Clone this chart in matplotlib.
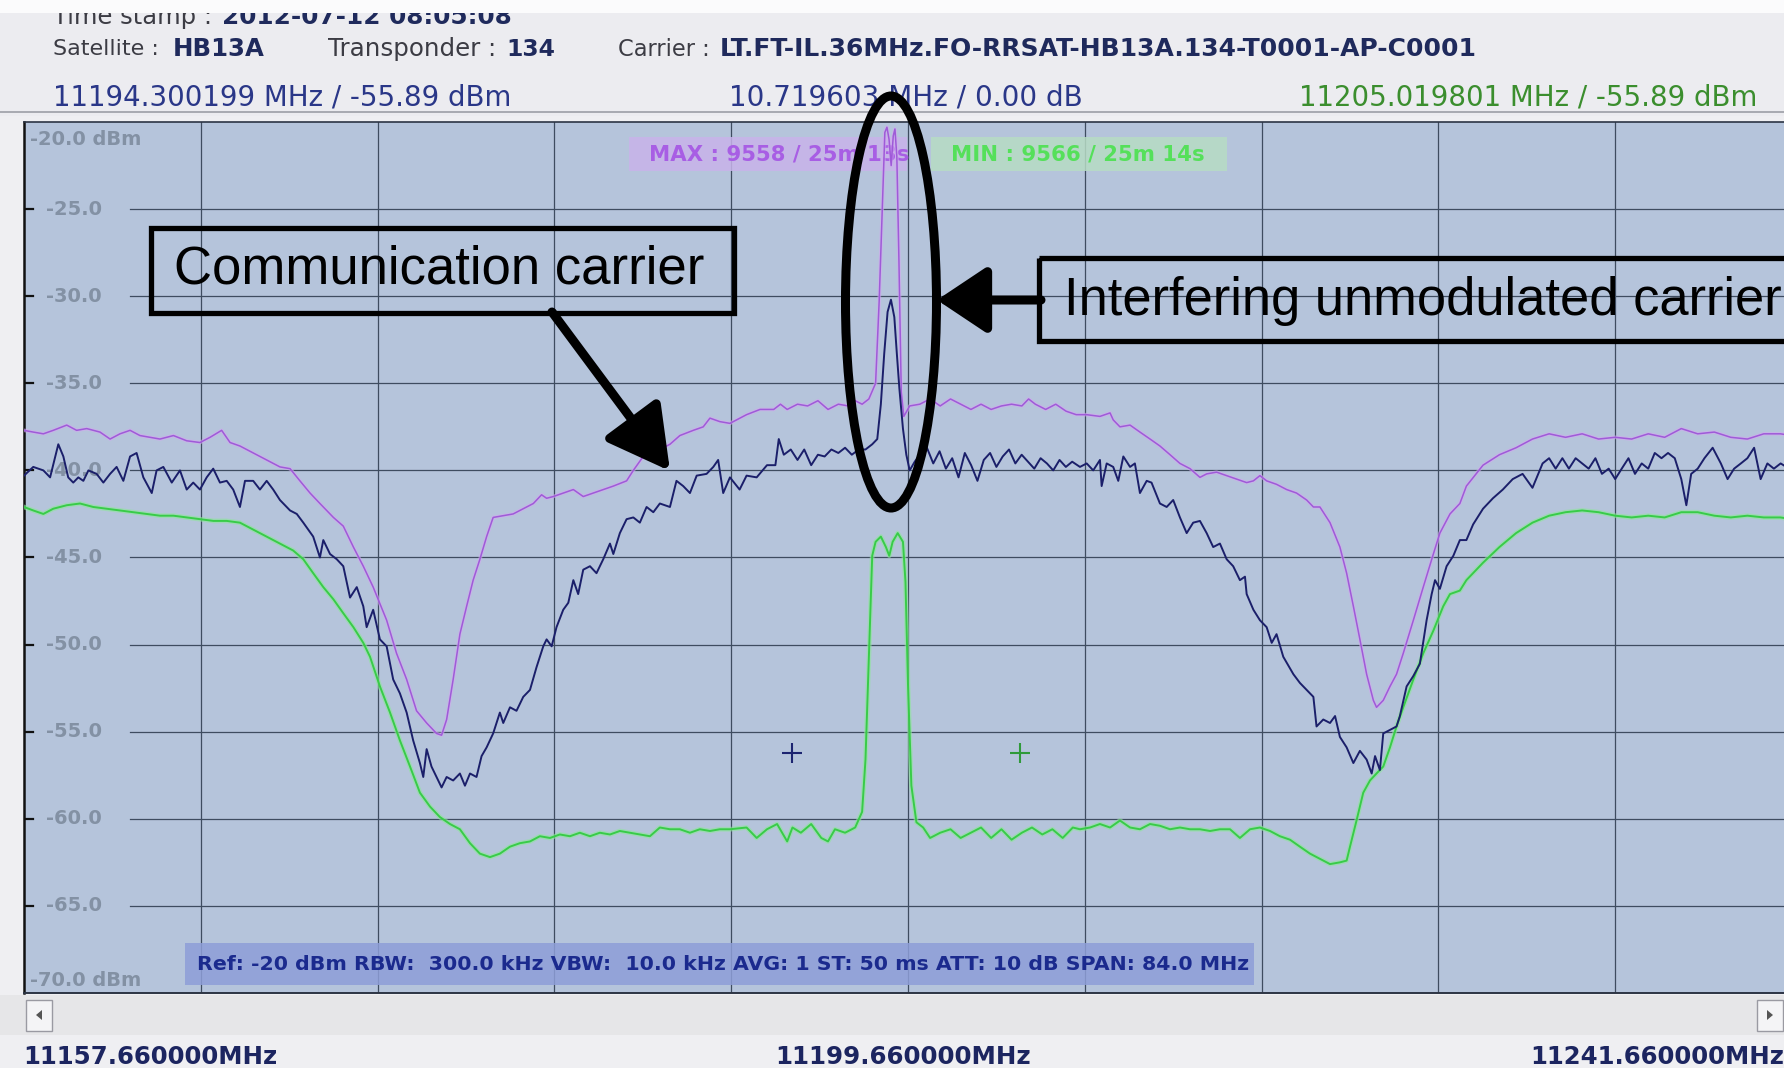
"""Spectrum analyzer screenshot: max-hold / live / min-hold traces with an interfering carrier."""

import matplotlib

matplotlib.use("Agg")
import matplotlib.pyplot as plt
from matplotlib.patches import Ellipse, Rectangle, Polygon
from matplotlib.transforms import blended_transform_factory
import numpy as np

F_START = 11157.66
F_SPAN = 84.0
F_DIV = 8.4
TOP_LEVEL = -20.0
BOTTOM_LEVEL = -70.0

# frequency offsets (MHz from F_START) and levels (dBm)
max_offset = [0.0, 0.44, 0.92, 1.39, 2.03, 2.50, 2.98, 3.61, 4.09, 4.56, 5.04, 5.51, 5.99, 6.46,
              7.10, 7.73, 8.36, 8.84, 9.39, 9.79, 10.26, 10.89, 11.53, 12.16, 12.64, 13.11,
              13.59, 14.06, 14.70, 15.17, 15.65, 16.12, 16.59, 17.23, 17.70, 18.18, 18.65,
              19.13, 19.60, 19.84, 20.08, 20.39, 20.71, 21.03, 21.34, 21.66, 21.98, 22.29,
              22.77, 23.24, 23.56, 23.88, 24.20, 24.59, 24.83, 25.15, 25.62, 26.10, 26.57,
              27.05, 27.52, 28.00, 28.63, 28.95, 29.42, 30.21, 30.69, 31.16, 31.80, 32.27,
              32.59, 33.06, 33.54, 34.33, 34.97, 35.62, 35.94, 36.26, 36.75, 37.23, 37.72,
              38.20, 38.69, 39.17, 39.49, 39.82, 40.14, 40.46, 40.63, 40.79, 40.90, 41.00,
              41.10, 41.20, 41.30, 41.38, 41.47, 41.57, 41.68, 41.80, 42.08, 42.56, 43.05,
              43.53, 44.02, 44.50, 44.99, 45.47, 45.95, 46.44, 46.92, 47.41, 47.73, 48.05,
              48.54, 49.02, 49.51, 49.99, 50.48, 51.12, 51.60, 51.75, 52.07, 52.55, 53.02,
              53.50, 53.97, 54.45, 54.92, 55.40, 55.87, 56.19, 56.66, 57.14, 57.61, 58.09,
              58.41, 58.72, 59.04, 59.51, 59.99, 60.46, 60.94, 61.26, 61.57, 62.05, 62.52,
              62.84, 63.16, 63.47, 63.79, 64.11, 64.26, 64.58, 64.90, 65.21, 65.53, 66.01,
              66.48, 66.96, 67.27, 67.75, 68.22, 68.53, 69.32, 70.10, 70.89, 71.67, 72.46,
              73.24, 74.03, 74.81, 75.60, 76.38, 77.17, 77.95, 78.74, 79.52, 80.31, 81.09,
              81.88, 82.66, 83.45, 84.00]
max_level = [-37.7, -37.8, -37.9, -37.7, -37.4, -37.7, -37.6, -37.8, -38.2, -37.9, -37.7, -38.0,
             -38.1, -38.2, -38.0, -38.3, -38.4, -38.1, -37.7, -38.4, -38.6, -39.0, -39.4, -39.8,
             -39.9, -40.6, -41.3, -41.9, -42.7, -43.2, -44.4, -45.5, -46.7, -48.6, -50.5, -52.0,
             -53.8, -54.5, -55.1, -55.2, -54.3, -52.0, -49.4, -47.8, -46.3, -45.1, -43.8, -42.7,
             -42.6, -42.5, -42.3, -42.1, -41.9, -41.4, -41.6, -41.5, -41.3, -41.1, -41.5, -41.3,
             -41.1, -40.9, -40.6, -40.0, -39.2, -38.8, -38.5, -38.0, -37.7, -37.5, -37.0, -37.2,
             -37.3, -36.8, -36.5, -36.5, -36.2, -36.5, -36.2, -36.3, -36.0, -36.5, -36.2, -36.3,
             -36.0, -36.2, -35.9, -35.0, -30.3, -24.5, -20.6, -20.3, -21.0, -22.5, -20.8, -20.4,
             -22.0, -28.0, -35.5, -36.9, -36.3, -36.2, -35.9, -36.3, -35.9, -36.2, -36.5, -36.2,
             -36.5, -36.3, -36.2, -36.3, -35.9, -36.2, -36.5, -36.2, -36.6, -36.8, -36.8, -36.9,
             -36.7, -37.1, -37.5, -37.4, -37.8, -38.2, -38.6, -39.1, -39.6, -39.9, -40.4, -40.2,
             -40.1, -40.3, -40.5, -40.7, -40.6, -40.3, -40.6, -40.8, -41.1, -41.3, -41.7, -42.1,
             -42.1, -43.0, -44.4, -45.9, -47.8, -49.7, -51.7, -53.2, -53.6, -53.2, -52.4, -51.7,
             -50.5, -48.6, -46.7, -44.8, -43.6, -42.5, -41.9, -40.9, -39.7, -39.1, -38.7, -38.2,
             -37.9, -38.1, -37.9, -38.2, -38.1, -38.2, -37.9, -38.1, -37.6, -37.9, -37.8, -38.1,
             -38.2, -37.9, -37.9, -38.0]

live_offset = [0.0, 0.44, 0.92, 1.24, 1.63, 1.87, 2.10, 2.34, 2.58, 2.82, 3.06, 3.45, 3.77, 4.09,
               4.40, 4.72, 5.04, 5.35, 5.67, 6.07, 6.30, 6.62, 7.02, 7.41, 7.73, 8.04, 8.36, 8.68,
               8.99, 9.31, 9.63, 9.94, 10.26, 10.50, 10.89, 11.21, 11.53, 11.84, 12.16, 12.64,
               12.96, 13.27, 13.74, 14.06, 14.22, 14.54, 14.86, 15.17, 15.49, 15.81, 16.12,
               16.28, 16.59, 16.91, 17.23, 17.54, 17.86, 18.18, 18.49, 18.81, 18.97, 19.13,
               19.36, 19.60, 19.84, 20.08, 20.39, 20.71, 20.95, 21.19, 21.50, 21.74, 21.98,
               22.29, 22.61, 22.77, 23.09, 23.40, 23.72, 24.04, 24.35, 24.67, 24.83, 25.07,
               25.30, 25.62, 25.86, 26.10, 26.33, 26.57, 26.89, 27.20, 27.52, 27.84, 28.00,
               28.31, 28.63, 28.95, 29.26, 29.58, 29.90, 30.21, 30.69, 31.00, 31.32, 31.64,
               31.96, 32.43, 32.75, 32.98, 33.22, 33.54, 34.00, 34.33, 34.81, 35.30, 35.70,
               35.86, 36.10, 36.43, 36.75, 37.07, 37.40, 37.72, 38.04, 38.36, 38.69, 39.01,
               39.33, 39.66, 39.98, 40.30, 40.54, 40.71, 40.87, 41.03, 41.19, 41.35, 41.47,
               41.59, 41.76, 41.92, 42.08, 42.32, 42.56, 42.90, 43.20, 43.50, 43.80, 44.10,
               44.40, 44.70, 45.00, 45.30, 45.60, 45.90, 46.20, 46.50, 46.80, 47.10, 47.40,
               47.70, 48.00, 48.30, 48.60, 48.90, 49.20, 49.50, 49.80, 50.17, 50.49, 50.80,
               51.12, 51.20, 51.44, 51.75, 51.99, 52.23, 52.55, 52.78, 53.02, 53.34, 53.57,
               53.97, 54.29, 54.60, 54.92, 55.24, 55.55, 55.87, 56.19, 56.50, 56.82, 57.14,
               57.45, 57.77, 58.01, 58.09, 58.41, 58.72, 59.04, 59.28, 59.51, 59.83, 60.31,
               60.62, 61.10, 61.26, 61.41, 61.73, 62.05, 62.29, 62.52, 62.84, 63.16, 63.47,
               63.79, 64.03, 64.19, 64.42, 64.58, 64.90, 65.21, 65.37, 65.69, 66.01, 66.32,
               66.64, 66.88, 67.04, 67.27, 67.59, 67.91, 68.22, 68.53, 68.85, 69.32, 69.79,
               70.26, 70.73, 71.20, 71.67, 72.15, 72.46, 72.77, 73.09, 73.40, 73.72, 74.03,
               74.34, 74.66, 74.97, 75.29, 75.60, 75.91, 76.23, 76.54, 76.86, 77.17, 77.48,
               77.80, 78.11, 78.43, 78.74, 78.98, 79.21, 79.52, 79.84, 80.23, 80.62, 80.94,
               81.25, 81.57, 81.88, 82.20, 82.51, 82.83, 83.14, 83.46, 84.00]
live_level = [-40.3, -39.8, -40.0, -40.4, -38.5, -39.2, -40.4, -40.7, -40.4, -40.6, -40.0, -40.2,
              -40.7, -40.2, -39.8, -40.6, -39.2, -39.0, -40.4, -41.3, -40.0, -39.8, -40.7, -40.0,
              -41.1, -40.7, -41.1, -40.4, -39.9, -40.7, -40.6, -41.1, -42.1, -40.6, -40.6, -41.1,
              -40.6, -41.1, -41.7, -42.3, -42.5, -43.0, -43.8, -45.0, -44.0, -44.8, -45.1, -45.5,
              -47.3, -46.7, -47.8, -49.0, -48.0, -49.7, -50.1, -52.0, -52.8, -53.9, -55.5, -56.8,
              -57.6, -56.0, -57.0, -57.6, -58.2, -57.6, -57.8, -57.4, -58.1, -57.4, -57.6, -56.4,
              -55.9, -55.1, -53.9, -54.5, -53.6, -53.8, -53.0, -52.6, -51.3, -50.1, -49.7, -50.1,
              -49.0, -48.0, -47.6, -46.3, -47.1, -45.7, -45.5, -45.9, -45.1, -44.2, -44.8, -43.6,
              -42.8, -42.7, -43.0, -42.1, -42.4, -41.9, -42.1, -40.6, -40.9, -41.3, -40.3, -40.2,
              -39.8, -39.4, -41.3, -40.4, -41.1, -40.3, -40.4, -39.7, -39.7, -38.2, -39.1, -38.8,
              -39.4, -38.8, -39.7, -39.1, -39.2, -38.8, -39.0, -38.7, -39.1, -38.8, -38.8, -38.5,
              -38.2, -36.2, -33.3, -30.9, -30.2, -31.2, -33.3, -35.3, -37.6, -39.1, -40.0, -39.5,
              -39.1, -38.7, -39.6, -38.9, -39.9, -39.3, -40.4, -39.0, -39.7, -40.6, -39.4, -39.0,
              -39.8, -39.2, -38.8, -39.6, -39.1, -39.5, -39.9, -39.3, -39.6, -40.0, -39.4, -39.8,
              -39.5, -39.8, -39.6, -40.0, -39.4, -40.9, -39.6, -39.8, -40.6, -39.2, -39.8, -39.6,
              -41.3, -40.6, -40.7, -41.9, -42.1, -41.7, -42.7, -43.6, -43.0, -42.9, -43.6, -44.4,
              -44.2, -45.1, -45.5, -46.3, -46.1, -47.1, -48.0, -48.6, -49.0, -49.9, -49.4, -50.7,
              -51.7, -52.2, -52.8, -53.0, -54.7, -54.3, -54.5, -54.1, -55.3, -55.9, -56.8, -56.1,
              -56.6, -57.4, -56.4, -57.2, -55.1, -54.9, -54.7, -54.1, -52.4, -51.8, -51.1, -48.6,
              -47.1, -46.3, -46.8, -45.5, -44.9, -44.0, -44.0, -43.1, -42.2, -41.6, -41.1, -40.5,
              -40.2, -41.0, -39.6, -39.3, -39.9, -39.3, -39.9, -39.3, -39.6, -39.9, -39.3, -40.2,
              -39.9, -40.5, -39.9, -39.3, -40.2, -39.6, -39.9, -39.0, -39.3, -39.0, -39.3, -40.5,
              -42.0, -40.2, -39.9, -39.3, -38.7, -39.6, -40.5, -39.9, -39.6, -39.3, -38.7, -40.5,
              -39.6, -39.9, -39.6, -40.0]

min_offset = [0.0, 0.44, 0.92, 1.39, 2.03, 2.66, 3.29, 3.93, 4.56, 5.19, 5.83, 6.46, 7.10, 7.73,
              8.36, 9.00, 9.63, 10.26, 10.89, 11.53, 12.16, 12.79, 13.27, 13.74, 14.22, 14.70,
              15.17, 15.65, 16.12, 16.44, 16.91, 17.39, 17.86, 18.34, 18.81, 19.29, 19.76,
              20.24, 20.71, 21.19, 21.66, 22.14, 22.61, 23.09, 23.56, 24.04, 24.51, 24.99,
              25.46, 25.94, 26.41, 26.89, 27.36, 27.84, 28.31, 28.79, 29.26, 29.74, 30.21,
              30.69, 31.16, 31.64, 32.11, 32.59, 33.06, 33.54, 34.33, 34.81, 35.30, 35.78,
              36.26, 36.51, 36.91, 37.40, 37.88, 38.20, 38.53, 39.01, 39.49, 39.82, 39.98,
              40.14, 40.30, 40.46, 40.71, 40.95, 41.11, 41.27, 41.51, 41.76, 41.88, 42.00,
              42.16, 42.40, 42.72, 43.05, 43.53, 44.02, 44.50, 44.99, 45.47, 45.95, 46.44,
              46.92, 47.41, 47.89, 48.38, 48.86, 49.35, 49.83, 50.17, 50.65, 51.12, 51.60,
              52.07, 52.55, 53.02, 53.50, 53.97, 54.45, 54.92, 55.40, 55.87, 56.35, 56.82,
              57.30, 57.77, 58.25, 58.72, 59.20, 59.67, 60.15, 60.62, 61.10, 61.57, 62.05,
              62.52, 62.84, 63.00, 63.31, 63.63, 63.95, 64.26, 64.58, 64.90, 65.21, 65.53,
              66.01, 66.48, 66.96, 67.43, 67.75, 68.22, 68.53, 69.32, 70.10, 70.89, 71.67,
              72.46, 73.24, 74.03, 74.81, 75.60, 76.38, 77.17, 77.95, 78.74, 79.52, 80.31,
              81.09, 81.88, 82.66, 83.45, 84.00]
min_level = [-42.1, -42.3, -42.5, -42.2, -42.0, -41.9, -42.1, -42.2, -42.3, -42.4, -42.5, -42.6,
             -42.6, -42.7, -42.8, -42.9, -42.9, -43.0, -43.4, -43.8, -44.2, -44.6, -45.1, -45.9,
             -46.7, -47.4, -48.2, -49.0, -49.9, -50.7, -52.4, -53.9, -55.5, -57.0, -58.5, -59.3,
             -59.9, -60.3, -60.6, -61.4, -62.0, -62.2, -62.0, -61.6, -61.4, -61.3, -61.0, -61.1,
             -60.9, -61.0, -60.8, -61.0, -60.8, -60.9, -60.7, -60.8, -60.9, -61.0, -60.5, -60.6,
             -60.6, -60.8, -60.6, -60.7, -60.6, -60.6, -60.5, -61.1, -60.6, -60.3, -61.3, -60.5,
             -60.8, -60.3, -61.1, -61.3, -60.6, -60.8, -60.5, -59.6, -56.6, -50.8, -44.9, -44.1,
             -43.8, -44.4, -44.9, -44.1, -43.6, -44.1, -46.4, -52.3, -58.1, -60.2, -60.5, -61.1,
             -60.8, -60.6, -61.1, -60.8, -60.5, -61.1, -60.6, -61.2, -60.8, -60.5, -60.9, -60.6,
             -61.1, -60.5, -60.6, -60.5, -60.3, -60.5, -60.1, -60.5, -60.6, -60.3, -60.4, -60.6,
             -60.5, -60.6, -60.6, -60.7, -60.6, -60.6, -61.1, -60.6, -60.5, -60.7, -61.0, -61.2,
             -61.6, -62.0, -62.3, -62.6, -62.5, -62.4, -61.6, -60.1, -58.5, -57.8, -57.4, -57.0,
             -55.9, -54.7, -53.6, -52.0, -50.5, -49.2, -47.8, -47.1, -46.9, -46.3, -45.3, -44.4,
             -43.6, -43.0, -42.6, -42.4, -42.3, -42.4, -42.6, -42.7, -42.6, -42.7, -42.4, -42.4,
             -42.6, -42.7, -42.6, -42.7, -42.7, -42.8]

# cursor markers (live marker, min marker)
marker_offset = [36.5, 47.3]
marker_level = [-56.2, -56.2]
marker_colors = ["#1c2470", "#2f9a3a"]

level_ticks = [-25, -30, -35, -40, -45, -50, -55, -60, -65]
freq_labels = ["11157.660000MHz", "11199.660000MHz", "11241.660000MHz"]

W, H = 1784, 1068
PLOT_BG = "#b5c4db"
GRID = "#3e4c60"

fig = plt.figure(figsize=(W / 100, H / 100), dpi=100, facecolor="#efeff2")
renderer = fig.canvas.get_renderer()

# pixel-space layers behind and in front of the plot
bg = fig.add_axes([0, 0, 1, 1], zorder=0)
fg = fig.add_axes([0, 0, 1, 1], zorder=5)
for layer in (bg, fg):
    layer.set_xlim(0, W)
    layer.set_ylim(H, 0)
    layer.axis("off")
    layer.patch.set_alpha(0)

# plot area (runs slightly past the right edge like the screenshot)
ax = fig.add_axes([24 / W, 1 - 993 / H, 1768 / W, 871 / H], zorder=2)
ax.set_facecolor(PLOT_BG)
ax.set_xlim(F_START, F_START + F_SPAN)
ax.set_ylim(BOTTOM_LEVEL, TOP_LEVEL)
ax.set_xticks([])
ax.set_yticks([])
ax.spines["right"].set_visible(False)
ax.spines["left"].set_linewidth(1.8)
ax.spines["left"].set_color("#111111")
ax.spines["top"].set_color("#2c3444")
ax.spines["bottom"].set_color("#2c3444")
ax.spines["top"].set_linewidth(1.2)
ax.spines["bottom"].set_linewidth(1.4)

for k in range(1, 10):
    ax.axvline(F_START + k * F_DIV, color=GRID, lw=0.9, zorder=1)
for level in level_ticks:
    ax.axhline(level, xmin=106 / 1768, xmax=1, color=GRID, lw=0.9, zorder=1)
    ax.axhline(level, xmin=0, xmax=9 / 1768, color="#111111", lw=1.6, zorder=1)

px_y = blended_transform_factory(fg.transData, ax.transData)
label_kw = dict(color="#8391a4", fontweight="bold", fontsize=14, va="center", zorder=1.5)
for level in level_ticks:
    ax.text(102, level, f"{level:.1f}", ha="right", transform=px_y, **label_kw)
ax.text(30, TOP_LEVEL - 1.0, f"{TOP_LEVEL:.1f} dBm", ha="left", transform=px_y, **label_kw)
ax.text(30, BOTTOM_LEVEL + 0.7, f"{BOTTOM_LEVEL:.1f} dBm", ha="left", transform=px_y, **label_kw)


def fit(t, width):
    """Scale a text's font so it spans the given pixel width."""
    w = t.get_window_extent(renderer).width
    t.set_fontsize(t.get_fontsize() * width / w)
    return t


# MAX / MIN hold labels
ax.add_patch(Rectangle((629, 137), 278, 34, transform=fg.transData, facecolor="#c8b3ea",
                       edgecolor="none", alpha=0.85, zorder=1.6))
ax.add_patch(Rectangle((931, 137), 296, 34, transform=fg.transData, facecolor="#b7dcc4",
                       edgecolor="none", alpha=0.85, zorder=1.6))
fit(ax.text(649, 155, "MAX : 9558 / 25m 13s", transform=fg.transData, color="#a85ee4",
            fontweight="bold", fontsize=14, va="center", zorder=1.7), 261)
fit(ax.text(951, 155, "MIN : 9566 / 25m 14s", transform=fg.transData, color="#55e05a",
            fontweight="bold", fontsize=14, va="center", zorder=1.7), 253)

# settings bar
ax.add_patch(Rectangle((185, 943), 1069, 42, transform=fg.transData, facecolor="#8e9ed8",
                       edgecolor="none", alpha=0.85, zorder=1.6))
fit(ax.text(197, 965, "Ref: -20 dBm RBW:  300.0 kHz VBW:  10.0 kHz AVG: 1 ST: 50 ms "
            "ATT: 10 dB SPAN: 84.0 MHz", transform=fg.transData, color="#1b2a8e",
            fontweight="bold", fontsize=13, va="center", zorder=1.7), 1047)

# traces
max_f = F_START + np.array(max_offset)
live_f = F_START + np.array(live_offset)
min_f = F_START + np.array(min_offset)
ax.plot(max_f, max_level, color="#d2a8f0", lw=2.6, alpha=0.6, zorder=3)
ax.plot(max_f, max_level, color="#9f5ad8", lw=1.1, zorder=3.1)
ax.plot(min_f, min_level, color="#8ee69a", lw=3.4, alpha=0.6, zorder=3.2)
ax.plot(min_f, min_level, color="#38cc48", lw=1.4, zorder=3.3)
ax.plot(live_f, live_level, color="#1b1f6a", lw=1.4, zorder=3.5)
for off, lvl, c in zip(marker_offset, marker_level, marker_colors):
    ax.plot(F_START + off, lvl, marker="+", markersize=15, mew=1.5, color=c, zorder=3.6)

# header panel
bg.add_patch(Rectangle((0, 0), W, 116, facecolor="#ececf0", edgecolor="none"))
bg.add_patch(Rectangle((0, 111), W, 2, facecolor="#a9abb2", edgecolor="none"))
bg.add_patch(Rectangle((0, 995), W, 40, facecolor="#e6e6e8", edgecolor="none"))
bg.add_patch(Rectangle((26, 1000), 26, 31, facecolor="#f4f4f6", edgecolor="#9a9aa2", lw=1))
bg.add_patch(Rectangle((1757, 1000), 26, 31, facecolor="#f4f4f6", edgecolor="#9a9aa2", lw=1))
bg.add_patch(Polygon([[36, 1015], [42, 1010], [42, 1020]], closed=True, facecolor="#555555"))
bg.add_patch(Polygon([[1773, 1015], [1767, 1010], [1767, 1020]], closed=True,
                     facecolor="#555555"))

header = [
    ("Time stamp :", 53, 212, 17, "normal", "#3c3c44"),
    ("2012-07-12 08:05:08", 222, 512, 17, "bold", "#1f2a5c"),
    ("Satellite :", 53, 159, 49, "normal", "#3c3c44"),
    ("HB13A", 173, 265, 49, "bold", "#1f2a5c"),
    ("Transponder :", 328, 496, 49, "normal", "#3c3c44"),
    ("134", 506, 555, 49, "bold", "#1f2a5c"),
    ("Carrier :", 618, 710, 49, "normal", "#3c3c44"),
    ("LT.FT-IL.36MHz.FO-RRSAT-HB13A.134-T0001-AP-C0001", 720, 1477, 49, "bold", "#1f2a5c"),
    ("11194.300199 MHz / -55.89 dBm", 53, 511, 98, "normal", "#2a3788"),
    ("10.719603 MHz / 0.00 dB", 729, 1081, 98, "normal", "#2a3788"),
    ("11205.019801 MHz / -55.89 dBm", 1299, 1756, 98, "normal", "#3b8e2e"),
]
for s, x0, x1, y, weight, color in header:
    fit(bg.text(x0, y, s, color=color, fontweight=weight, fontsize=15, va="center"), x1 - x0)
# the top line of the screen grab is cut off
bg.add_patch(Rectangle((0, 0), W, 13, facecolor="#fbfbfc", edgecolor="none", zorder=5))

for s, x0, x1 in zip(freq_labels, [23, 775, 1530], [279, 1032, 1786]):
    fit(bg.text(x0, 1057, s, color="#1c2560", fontweight="bold", fontsize=16, va="center"),
        x1 - x0)

# callouts
fg.add_patch(Rectangle((151, 228), 583, 85, facecolor="none", edgecolor="black", lw=3.8))
fit(fg.text(174, 270, "Communication carrier", family="Liberation Sans", color="black",
            fontsize=34, va="center"), 531)
fg.annotate("", xy=(670, 471), xytext=(552, 312),
            arrowprops=dict(arrowstyle="-|>,head_length=1.0,head_width=0.55", lw=6.5,
                            color="black", mutation_scale=38, shrinkA=0, shrinkB=0))

fg.add_patch(Ellipse((891, 302), 91, 412, facecolor="none", edgecolor="black", lw=6.5))
fg.add_patch(Rectangle((1039, 258), 800, 83, facecolor="none", edgecolor="black", lw=3.8))
fit(fg.text(1064, 301, "Interfering unmodulated carrier", family="Liberation Sans",
            color="black", fontsize=34, va="center"), 718)
fg.annotate("", xy=(937, 300), xytext=(1041, 300),
            arrowprops=dict(arrowstyle="-|>,head_length=0.9,head_width=0.6", lw=6.5,
                            color="black", mutation_scale=34, shrinkA=0, shrinkB=0))

fig.savefig("out.png", dpi=100, facecolor=fig.get_facecolor())
